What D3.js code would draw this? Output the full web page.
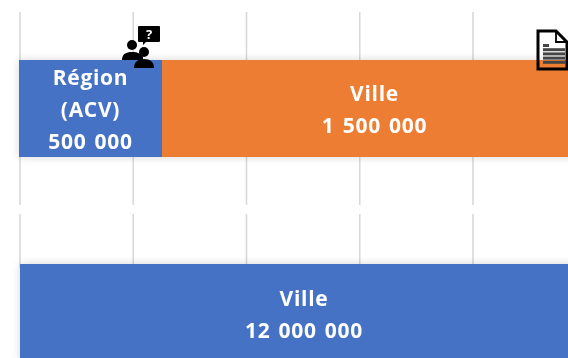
<!DOCTYPE html>
<html>
<head>
<meta charset="utf-8">
<script src="https://cdn.jsdelivr.net/npm/d3@7"></script>
<style>
  html, body { margin: 0; padding: 0; background: #fff; overflow: hidden; }
  svg { display: block; }
  text { font-family: "Open Sans", sans-serif; font-weight: 700; fill: #fff; text-anchor: middle; }
</style>
</head>
<body>
<svg id="chart" width="568" height="358"></svg>
<script>
// top chart: region + city share
const topLabels = [["Région", "(ACV)"], ["Ville"]];
const topValues = [500000, 1500000];
const topColors = ["#4472c4", "#ed7d31"];

// bottom chart: city only
const bottomLabels = [["Ville"]];
const bottomValues = [12000000];
const bottomColors = ["#4472c4"];

const gridTicks = [0, 1, 2, 3, 4];

const fmt = v => d3.format(",")(v).replace(/,/g, " ");

const svg = d3.select("#chart");
const defs = svg.append("defs");

const shadow = defs.append("filter").attr("id", "shadow")
  .attr("x", "-5%").attr("y", "-25%").attr("width", "110%").attr("height", "150%");
shadow.append("feDropShadow").attr("dx", 0).attr("dy", 0)
  .attr("stdDeviation", 4).attr("flood-color", "#000").attr("flood-opacity", 0.16);

// userSpaceOnUse so it also works on the zero width grid lines
const soft = defs.append("filter").attr("id", "soft")
  .attr("filterUnits", "userSpaceOnUse")
  .attr("x", 0).attr("y", 0).attr("width", 568).attr("height", 358);
soft.append("feGaussianBlur").attr("stdDeviation", 0.55);

function drawPanel(o) {
  const g = svg.append("g");
  const x = d3.scaleLinear().domain([0, o.max]).range(o.xRange);
  const grid = d3.scaleLinear().domain([0, 4]).range(o.gridRange);
  const y = d3.scaleBand().domain([0]).range(o.barY);

  g.append("g")
    .attr("filter", "url(#soft)")
    .selectAll("line")
    .data(gridTicks)
    .enter()
    .append("line")
    .attr("x1", d => grid(d))
    .attr("x2", d => grid(d))
    .attr("y1", o.gridY[0])
    .attr("y2", o.gridY[1])
    .style("stroke", "#d9d9d9")
    .style("stroke-width", 1.6);

  let rows = [], sum = 0;
  o.values.forEach((v, i) => {
    rows.push({ start: sum, value: v, lines: o.labels[i].concat(fmt(v)), color: o.colors[i] });
    sum += v;
  });

  const bars = g.append("g").attr("filter", "url(#shadow)");
  bars.selectAll("rect")
    .data(rows)
    .enter()
    .append("rect")
    .attr("x", d => x(d.start))
    .attr("y", y(0))
    .attr("width", d => x(d.start + d.value) - x(d.start))
    .attr("height", y.bandwidth())
    .style("fill", d => d.color);

  const lineH = 32;
  const labels = g.selectAll("text.label")
    .data(rows)
    .enter()
    .append("text")
    .attr("class", "label")
    .attr("font-size", 21)
    .attr("letter-spacing", 0.7)
    .attr("word-spacing", 2)
    .attr("filter", "url(#soft)");
  labels.each(function(d) {
    const cx = x(d.start + d.value / 2) + o.labelShift[rows.indexOf(d)];
    const first = y(0) + y.bandwidth() / 2 - (d.lines.length - 1) * lineH / 2 + 8.5;
    d3.select(this).selectAll("tspan")
      .data(d.lines)
      .enter()
      .append("tspan")
      .attr("x", cx)
      .attr("y", (l, i) => first + i * lineH)
      .text(l => l);
  });
}

drawPanel({
  max: 2000000, xRange: [19, 591], gridRange: [20, 473], gridY: [12, 205], barY: [60, 157],
  values: topValues, labels: topLabels, colors: topColors, labelShift: [0, -2]
});
drawPanel({
  max: 12000000, xRange: [20, 588], gridRange: [20, 473], gridY: [214, 268], barY: [264, 362],
  values: bottomValues, labels: bottomLabels, colors: bottomColors, labelShift: [0]
});

// icons
const people = svg.append("g").attr("fill", "#000").attr("filter", "url(#soft)");
people.append("path").attr("d", "M139 26h20a1 1 0 0 1 1 1v14a1 1 0 0 1-1 1h-13l-3 3v-3h-4a1 1 0 0 1-1-1v-14a1 1 0 0 1 1-1z");
people.append("text").attr("x", 149).attr("y", 39).attr("font-size", 13).text("?");
people.append("circle").attr("cx", 132).attr("cy", 45).attr("r", 5);
people.append("path").attr("d", "M122 60c0-6 4-8 10-8s9 2 11 5v3z");
people.append("circle").attr("cx", 144).attr("cy", 52).attr("r", 5);
people.append("path").attr("d", "M134 68c0-6 4-9 10-9s10 3 10 9z");

const doc = svg.append("g").attr("filter", "url(#soft)");
doc.append("path").attr("d", "M538 31h18l11 11v27h-29z").attr("fill", "none")
  .attr("stroke", "#000").attr("stroke-width", 3);
doc.append("path").attr("d", "M556 31v11h11").attr("fill", "none").attr("stroke", "#000").attr("stroke-width", 1.8);
doc.append("g").selectAll("rect")
  .data([0, 1, 2, 3, 4])
  .enter()
  .append("rect")
  .attr("x", 543)
  .attr("y", d => 44 + d * 4.2)
  .attr("width", d => d === 0 ? 6 : 22)
  .attr("height", 3)
  .attr("fill", "#444");
</script>
</body>
</html>
